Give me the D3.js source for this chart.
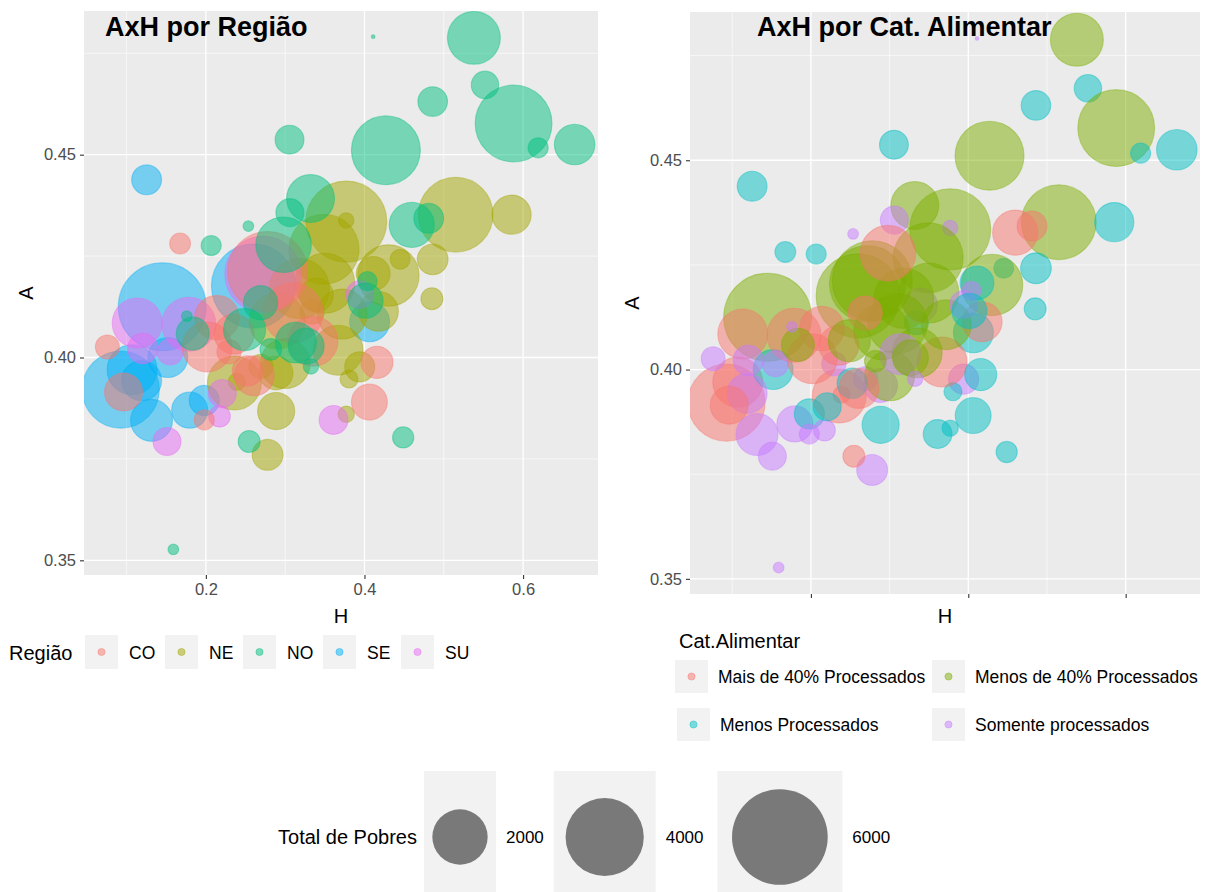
<!DOCTYPE html>
<html lang="pt">
<head>
<meta charset="utf-8">
<title>AxH por Região / Cat. Alimentar</title>
<script src="https://cdn.jsdelivr.net/npm/d3@7"></script>
<style>
  body { margin: 0; background: #fff; }
  svg text { font-family: "Liberation Sans", Arial, sans-serif; }
</style>
</head>
<body>
<svg id="chart" width="1207" height="892"></svg>
<script>
// values (one entry per point, same order in every array)
var H = [
  0.260, 0.145, 0.0927, 0.107, 0.1315, 0.1796, 0.198, 0.4065, 0.152, 0.119, 0.1253,
  0.377, 0.377, 0.515, 0.5855, 0.486, 0.445, 0.4302, 0.485, 0.411, 0.349, 0.394, 0.3805, 0.377,
  0.2886, 0.2778, 0.239, 0.236, 0.334, 0.4176, 0.3667, 0.3393, 0.2885, 0.2694, 0.318, 0.350,
  0.372, 0.290, 0.300,
  0.272, 0.1134, 0.1205, 0.1785, 0.394, 0.361, 0.151, 0.2173, 0.2207, 0.155,
  0.278, 0.0758, 0.0962, 0.4158, 0.4062, 0.198, 0.1675, 0.2292, 0.2525, 0.214, 0.2017, 0.261,
  0.2356, 0.310, 0.335,
  0.538, 0.411, 0.552, 0.486, 0.588, 0.619, 0.665, 0.427, 0.3055, 0.332, 0.306, 0.4596, 0.481,
  0.298, 0.2536, 0.2067, 0.269, 0.2488, 0.1835, 0.176, 0.4038, 0.4014, 0.3135, 0.3265, 0.2818,
  0.3325, 0.2546, 0.4488, 0.159
];
var A = [
  0.4176, 0.4125, 0.3921, 0.3970, 0.3845, 0.3870, 0.3894, 0.4088, 0.4000, 0.3943, 0.4438,
  0.4335, 0.4338, 0.4352, 0.4352, 0.4242, 0.4242, 0.4202, 0.4145, 0.4207, 0.4267, 0.3977, 0.3947, 0.3860,
  0.3868, 0.3760, 0.3940, 0.3937, 0.4112, 0.4114, 0.4018, 0.4154, 0.3962, 0.3978, 0.4170, 0.4183,
  0.4107, 0.4090, 0.3985,
  0.4205, 0.4085, 0.4022, 0.4082, 0.4155, 0.3846, 0.3793, 0.3855, 0.3911, 0.4014,
  0.4212, 0.4026, 0.3915, 0.3988, 0.3890, 0.3846, 0.4281, 0.4014, 0.3967, 0.4098, 0.4026, 0.3955,
  0.4058, 0.4110, 0.4040,
  0.4788, 0.4791, 0.4672, 0.4631, 0.4577, 0.4517, 0.4525, 0.4511, 0.4537, 0.4392, 0.4357, 0.4327, 0.4343,
  0.4278, 0.4324, 0.4276, 0.4135, 0.4069, 0.4059, 0.4102, 0.4188, 0.4140, 0.4037, 0.4028, 0.4020,
  0.3978, 0.3793, 0.3803, 0.3527
];
var pobres = [
  4620, 5070, 3900, 1630, 1150, 850, 590, 1040, 1040, 1040, 580,
  4300, 150, 3660, 1000, 615, 256, 2464, 311, 750, 3200, 590, 210, 170,
  900, 620, 190, 1900, 380, 1040, 1630, 750, 750, 380, 2350, 2350,
  1630, 2050, 1630,
  3800, 1630, 600, 1900, 500, 540, 510, 300, 510, 440,
  4190, 370, 940, 670, 840, 260, 280, 380, 600, 1300, 1630, 1040,
  1040, 2350, 1630,
  1830, 3, 490, 570, 3860, 260, 1070, 3110, 540, 1500, 510, 1330, 580,
  2020, 70, 260, 760, 1160, 710, 70, 240, 800, 1100, 840, 300,
  150, 311, 290, 70
];
var regiao = [
  "SE", "SE", "SE", "SE", "SE", "SE", "SE", "SE", "SE", "SE", "SE",
  "NE", "NE", "NE", "NE", "NE", "NE", "NE", "NE", "NE", "NE", "NE", "NE", "NE",
  "NE", "NE", "NE", "NE", "NE", "NE", "NE", "NE", "NE", "NE", "NE", "NE",
  "NE", "NE", "NE",
  "SU", "SU", "SU", "SU", "SU", "SU", "SU", "SU", "SU", "SU",
  "CO", "CO", "CO", "CO", "CO", "CO", "CO", "CO", "CO", "CO", "CO", "CO",
  "CO", "CO", "CO",
  "NO", "NO", "NO", "NO", "NO", "NO", "NO", "NO", "NO", "NO", "NO", "NO", "NO",
  "NO", "NO", "NO", "NO", "NO", "NO", "NO", "NO", "NO", "NO", "NO", "NO",
  "NO", "NO", "NO", "NO"
];
var catAlimentar = [
  "L40", "L40", "M40", "M40", "SP", "SP", "MP", "MP", "MP", "SP", "MP",
  "L40", "SP", "L40", "MP", "MP", "MP", "L40", "MP", "MP", "L40", "SP", "MP", "MP",
  "MP", "SP", "M40", "M40", "MP", "M40", "M40", "SP", "SP", "SP", "L40", "L40",
  "L40", "L40", "L40",
  "L40", "M40", "SP", "M40", "SP", "MP", "SP", "SP", "MP", "SP",
  "L40", "SP", "M40", "MP", "MP", "SP", "MP", "SP", "MP", "M40", "M40", "M40",
  "M40", "L40", "L40",
  "L40", "SP", "MP", "MP", "L40", "MP", "MP", "L40", "MP", "L40", "SP", "M40", "M40",
  "M40", "SP", "MP", "M40", "L40", "L40", "SP", "SP", "MP", "SP", "L40", "L40",
  "SP", "M40", "MP", "SP"
];

var regioes = ["CO", "NE", "NO", "SE", "SU"];
var regCores = ["#F8766D", "#A3A500", "#00BF7D", "#00B0F6", "#E76BF3"];
var catCodigos = ["M40", "L40", "MP", "SP"];
var categorias = ["Mais de 40% Processados", "Menos de 40% Processados", "Menos Processados", "Somente processados"];
var catCores = ["#F8766D", "#7CAE00", "#00BFC4", "#C77CFF"];

var xTicks = [0.2, 0.4, 0.6];
var xMinor = [0.1, 0.3, 0.5, 0.7];
var yTicks = [0.35, 0.40, 0.45];
var yMinor = [0.375, 0.425, 0.475];
var sizeBreaks = [2000, 4000, 6000];

var svg = d3.select("#chart");
var ALPHA = 0.5;

// ggplot-like 5% expansion of the data range
function expand(ext) {
  var r = ext[1] - ext[0];
  return [ext[0] - 0.05 * r, ext[1] + 0.05 * r];
}
var xDom = expand(d3.extent(H));
var yDom = expand(d3.extent(A));

// area proportional to value (like scale_size)
var size = d3.scaleRadial().domain([0, 7000]).range([1.5, 51.7]);

var regColor = d3.scaleOrdinal().domain(regioes).range(regCores);
var catColor = d3.scaleOrdinal().domain(catCodigos).range(catCores);

var idx = d3.range(H.length);

function panel(o) {
  var x = d3.scaleLinear().domain(xDom).range([o.left, o.right]);
  var y = d3.scaleLinear().domain(yDom).range([o.bottom, o.top]);
  var g = svg.append("g");

  g.append("rect")
    .attr("x", o.left).attr("y", o.top)
    .attr("width", o.right - o.left).attr("height", o.bottom - o.top)
    .attr("fill", "#EBEBEB");

  var xm = xMinor.filter(function(d) { return d > xDom[0] && d < xDom[1]; });
  g.selectAll(".xminor").data(xm).join("line")
    .attr("x1", x).attr("x2", x).attr("y1", o.top).attr("y2", o.bottom)
    .attr("stroke", "#fff").attr("stroke-width", 0.6);
  g.selectAll(".yminor").data(yMinor).join("line")
    .attr("y1", y).attr("y2", y).attr("x1", o.left).attr("x2", o.right)
    .attr("stroke", "#fff").attr("stroke-width", 0.6);
  g.selectAll(".xmajor").data(xTicks).join("line")
    .attr("x1", x).attr("x2", x).attr("y1", o.top).attr("y2", o.bottom)
    .attr("stroke", "#fff").attr("stroke-width", 1.3);
  g.selectAll(".ymajor").data(yTicks).join("line")
    .attr("y1", y).attr("y2", y).attr("x1", o.left).attr("x2", o.right)
    .attr("stroke", "#fff").attr("stroke-width", 1.3);

  var clipId = "clip" + o.name;
  svg.append("clipPath").attr("id", clipId).append("rect")
    .attr("x", o.left).attr("y", o.top)
    .attr("width", o.right - o.left).attr("height", o.bottom - o.top);

  g.append("g").attr("clip-path", "url(#" + clipId + ")")
    .selectAll("circle").data(idx).join("circle")
    .attr("cx", function(i) { return x(H[i]); })
    .attr("cy", function(i) { return y(A[i]); })
    .attr("r", function(i) { return size(pobres[i]); })
    .attr("fill", function(i) { return o.color(i); })
    .attr("fill-opacity", ALPHA)
    .attr("stroke", function(i) { return o.color(i); })
    .attr("stroke-opacity", 0.4)
    .attr("stroke-width", 1.1);

  var xAxis = d3.axisBottom(x).tickValues(xTicks).tickSize(4).tickPadding(4)
    .tickFormat(o.xLabels ? d3.format(".1f") : function() { return ""; });
  var yAxis = d3.axisLeft(y).tickValues(yTicks).tickSize(4).tickPadding(4)
    .tickFormat(d3.format(".2f"));

  var gx = g.append("g").attr("transform", "translate(0," + o.bottom + ")").call(xAxis);
  var gy = g.append("g").attr("transform", "translate(" + o.left + ",0)").call(yAxis);
  [gx, gy].forEach(function(a) {
    a.select(".domain").remove();
    a.selectAll(".tick line").attr("stroke", "#333333").attr("stroke-width", 1.1);
    a.selectAll(".tick text").attr("fill", "#4D4D4D").style("font-size", "16.5px");
  });

  g.append("text")
    .attr("x", (o.left + o.right) / 2).attr("y", 623)
    .attr("text-anchor", "middle").style("font-size", "20px").attr("fill", "#000")
    .text("H");
  g.append("text")
    .attr("transform", "translate(" + (o.left - 58) + "," + (o.top + o.bottom) / 2 + ") rotate(-90)")
    .attr("text-anchor", "middle").attr("dy", "0.35em")
    .style("font-size", "20px").attr("fill", "#000")
    .text("A");

  g.append("text")
    .attr("x", o.titleX).attr("y", 36)
    .style("font-size", "27px").style("font-weight", "bold").attr("fill", "#000")
    .text(o.title);
}

panel({
  name: "reg", left: 84, right: 598, top: 11, bottom: 575,
  color: function(i) { return regColor(regiao[i]); },
  xLabels: true, title: "AxH por Região", titleX: 105
});
panel({
  name: "cat", left: 690, right: 1200, top: 12, bottom: 594,
  color: function(i) { return catColor(catAlimentar[i]); },
  xLabels: false, title: "AxH por Cat. Alimentar", titleX: 757
});

// legend: Região
var lg = svg.append("g");
lg.append("text").attr("x", 9).attr("y", 653).attr("dy", "0.35em")
  .style("font-size", "20px").text("Região");
var regKeyX = [85, 165, 243, 323, 401];
regioes.forEach(function(r, k) {
  var kx = regKeyX[k];
  lg.append("rect").attr("x", kx).attr("y", 635).attr("width", 33).attr("height", 34).attr("fill", "#F2F2F2");
  lg.append("circle").attr("cx", kx + 16.5).attr("cy", 652).attr("r", 3.6)
    .attr("fill", regCores[k]).attr("fill-opacity", ALPHA)
    .attr("stroke", regCores[k]).attr("stroke-opacity", 0.4);
  lg.append("text").attr("x", kx + 44).attr("y", 653).attr("dy", "0.35em")
    .style("font-size", "17.5px").text(r);
});

// legend: Cat.Alimentar
var cg = svg.append("g");
cg.append("text").attr("x", 679).attr("y", 641).attr("dy", "0.35em")
  .style("font-size", "20px").text("Cat.Alimentar");
var catKeyPos = [[675, 660], [932, 660], [677, 708], [932, 708]];
categorias.forEach(function(c, k) {
  var p = catKeyPos[k];
  cg.append("rect").attr("x", p[0]).attr("y", p[1]).attr("width", 33).attr("height", 33).attr("fill", "#F2F2F2");
  cg.append("circle").attr("cx", p[0] + 16.5).attr("cy", p[1] + 16.5).attr("r", 3.6)
    .attr("fill", catCores[k]).attr("fill-opacity", ALPHA)
    .attr("stroke", catCores[k]).attr("stroke-opacity", 0.4);
  cg.append("text").attr("x", p[0] + 43).attr("y", p[1] + 17).attr("dy", "0.35em")
    .style("font-size", "17.5px").text(c);
});

// legend: Total de Pobres
var sg = svg.append("g");
sg.append("text").attr("x", 417).attr("y", 837).attr("dy", "0.35em")
  .attr("text-anchor", "end").style("font-size", "20px").text("Total de Pobres");
var sx = 424;
sizeBreaks.forEach(function(v) {
  var r = size(v);
  var w = Math.round(2 * r * 1.31);
  sg.append("rect").attr("x", sx).attr("y", 771).attr("width", w).attr("height", 132).attr("fill", "#F2F2F2");
  sg.append("circle").attr("cx", sx + w / 2).attr("cy", 837).attr("r", r)
    .attr("fill", "#000").attr("fill-opacity", ALPHA);
  sg.append("text").attr("x", sx + w + 10).attr("y", 837).attr("dy", "0.35em")
    .style("font-size", "17px").text(v);
  sx += w + 48 + 0.35 * r;
});
</script>
</body>
</html>
